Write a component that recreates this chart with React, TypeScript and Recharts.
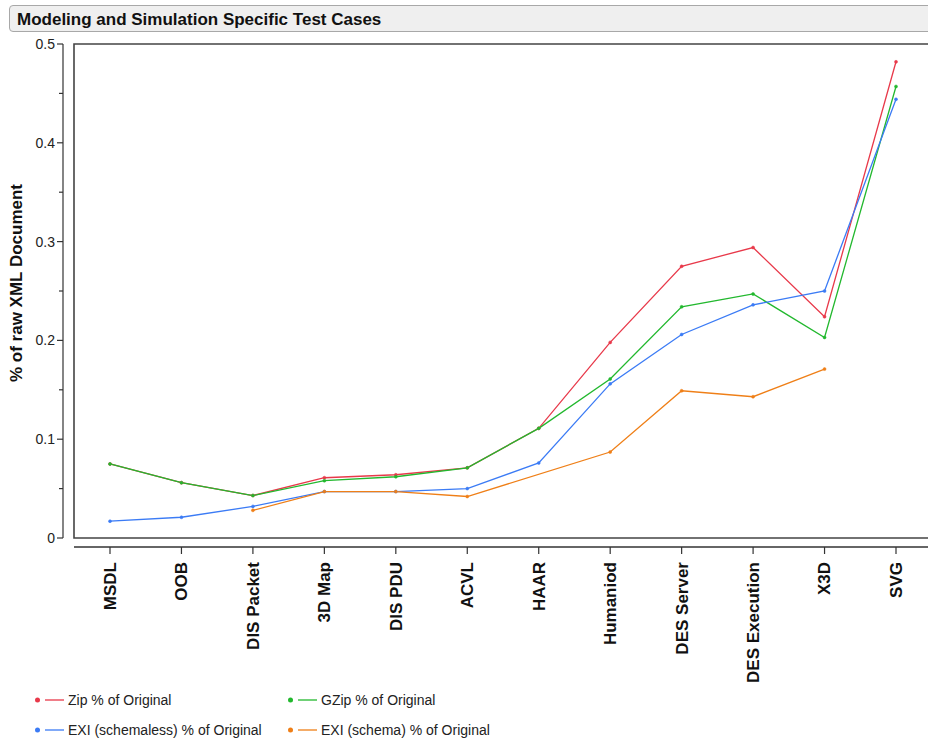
import {
  LineChart,
  Line,
  XAxis,
  YAxis,
  ReferenceArea,
} from "recharts";

const testCases = [
  "MSDL",
  "OOB",
  "DIS Packet",
  "3D Map",
  "DIS PDU",
  "ACVL",
  "HAAR",
  "Humaniod",
  "DES Server",
  "DES Execution",
  "X3D",
  "SVG",
];

const zipPct = [0.075, 0.056, 0.043, 0.061, 0.064, 0.071, 0.111, 0.198, 0.275, 0.294, 0.224, 0.482];
const gzipPct = [0.075, 0.056, 0.043, 0.058, 0.062, 0.071, 0.111, 0.161, 0.234, 0.247, 0.203, 0.457];
const exiSchemalessPct = [0.017, 0.021, 0.032, 0.047, 0.047, 0.05, 0.076, 0.156, 0.206, 0.236, 0.25, 0.444];
const exiSchemaPct = [null, null, 0.028, 0.047, 0.047, 0.042, null, 0.087, 0.149, 0.143, 0.171, null];

const yTicks = [0, 0.05, 0.1, 0.15, 0.2, 0.25, 0.3, 0.35, 0.4, 0.45, 0.5];

const series = [
  { key: "zip", name: "Zip % of Original", color: "#e8394a" },
  { key: "gzip", name: "GZip % of Original", color: "#22b82e" },
  { key: "exiLess", name: "EXI (schemaless) % of Original", color: "#3b7bf5" },
  { key: "exiSchema", name: "EXI (schema) % of Original", color: "#ef7f17" },
];

const data = testCases.map((name, i) => ({
  name,
  zip: zipPct[i],
  gzip: gzipPct[i],
  exiLess: exiSchemalessPct[i],
  exiSchema: exiSchemaPct[i],
}));

const FONT = '"Liberation Sans", Arial, Helvetica, sans-serif';

function YTick(props: any) {
  const { x, y, payload } = props;
  const v = payload.value as number;
  const major = Math.round(v * 100) % 10 === 0;
  return (
    <g>
      <line x1={x - (major ? 6 : 4)} x2={x} y1={y} y2={y} stroke="#333" strokeWidth={1.2} />
      {major && (
        <text
          x={x - 8}
          y={y}
          dy="0.35em"
          textAnchor="end"
          fontSize={14}
          fill="#222"
          fontFamily={FONT}
        >
          {v === 0 ? "0" : v.toFixed(1)}
        </text>
      )}
    </g>
  );
}

function XTick(props: any) {
  const { x, y, payload } = props;
  return (
    <text
      x={x}
      y={y}
      dy="0.35em"
      transform={`rotate(-90, ${x}, ${y})`}
      textAnchor="end"
      fontSize={17}
      fontWeight="bold"
      fill="#111"
      fontFamily={FONT}
    >
      {payload.value}
    </text>
  );
}

function LegendBox() {
  const cols = [35, 288];
  const rows = [700, 730];
  return (
    <>
      {series.map((s, i) => {
        const left = cols[i % 2];
        const top = rows[Math.floor(i / 2)];
        return (
          <div
            key={s.key}
            style={{
              position: "absolute",
              left,
              top: top - 10,
              height: 20,
              display: "flex",
              alignItems: "center",
              fontFamily: FONT,
              fontSize: 14,
              color: "#222",
              whiteSpace: "nowrap",
            }}
          >
            <svg width={33} height={20}>
              <circle cx={2.5} cy={10} r={2.5} fill={s.color} />
              <line x1={10} x2={29} y1={10} y2={10} stroke={s.color} strokeWidth={1.3} />
            </svg>
            <span>{s.name}</span>
          </div>
        );
      })}
    </>
  );
}

export default function App() {
  return (
    <div
      style={{
        position: "absolute",
        left: 0,
        top: 0,
        width: 928,
        height: 740,
        overflow: "hidden",
        background: "#fff",
        fontFamily: FONT,
      }}
    >
      <div
        style={{
          position: "absolute",
          left: 9,
          top: 5,
          width: 916,
          height: 25,
          background: "#efefef",
          border: "1px solid #a8a8a8",
          borderRadius: 4,
          fontSize: 17,
          fontWeight: "bold",
          color: "#111",
          paddingLeft: 7,
          lineHeight: "28px",
          boxSizing: "content-box",
        }}
      >
        Modeling and Simulation Specific Test Cases
      </div>

      <div style={{ position: "absolute", left: 0, top: 0 }}>
        <LineChart
          width={940}
          height={740}
          data={data}
          margin={{ top: 44, right: 8, bottom: 0, left: 0 }}
        >
          <YAxis yAxisId="gap" width={11} type="number" domain={[0, 1]} tick={false} axisLine={false} tickLine={false} />
          <YAxis
            yAxisId="main"
            width={63}
            type="number"
            domain={[0, 0.5]}
            ticks={yTicks}
            interval={0}
            tick={<YTick />}
            tickSize={0}
            tickMargin={0}
            tickLine={false}
            axisLine={{ stroke: "#333", strokeWidth: 1.2 }}
          />
          <XAxis xAxisId="gap" dataKey="name" height={9} tick={false} axisLine={false} tickLine={false} />
          <XAxis
            xAxisId="main"
            dataKey="name"
            height={193}
            interval={0}
            padding={{ left: 36, right: 36 }}
            tick={<XTick />}
            tickSize={7}
            tickMargin={8}
            tickLine={{ stroke: "#333", strokeWidth: 1.2 }}
            axisLine={{ stroke: "#333", strokeWidth: 1.6 }}
          />
          <ReferenceArea
            xAxisId="gap"
            yAxisId="main"
            y1={0}
            y2={0.5}
            fill="none"
            stroke="#444"
            strokeWidth={1.6}
          />
          {series.map((s) => (
            <Line
              key={s.key}
              xAxisId="main"
              yAxisId="main"
              type="linear"
              dataKey={s.key}
              name={s.name}
              stroke={s.color}
              strokeWidth={1.3}
              dot={{ r: 1.5, fill: s.color, stroke: s.color, strokeWidth: 0.5 }}
              connectNulls
              isAnimationActive={false}
            />
          ))}
        </LineChart>
      </div>

      <div
        style={{
          position: "absolute",
          left: 17,
          top: 283,
          transform: "translate(-50%, -50%) rotate(-90deg)",
          fontSize: 17,
          fontWeight: "bold",
          color: "#111",
          whiteSpace: "nowrap",
        }}
      >
        % of raw XML Document
      </div>

      <LegendBox />
    </div>
  );
}
